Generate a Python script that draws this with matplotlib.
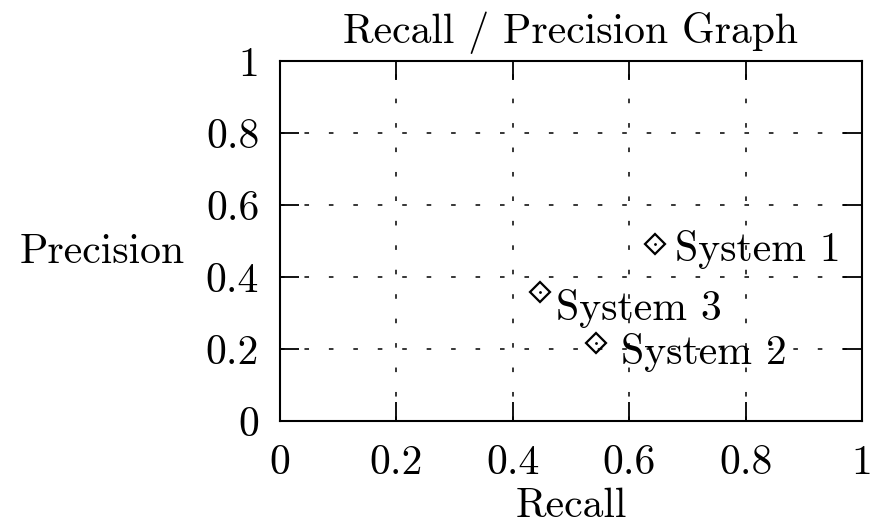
import matplotlib
matplotlib.use("Agg")
import matplotlib.pyplot as plt

plt.rcParams['font.family'] = ['cmr10', 'DejaVu Serif']
plt.rcParams['mathtext.fontset'] = 'cm'
plt.rcParams['axes.unicode_minus'] = False

systems = ["System 1", "System 2", "System 3"]
recall = [0.645, 0.543, 0.447]
precision = [0.492, 0.217, 0.358]
ticks = [0, 0.2, 0.4, 0.6, 0.8, 1]
tick_labels = ["0", "0.2", "0.4", "0.6", "0.8", "1"]
# label offsets (points) relative to each marker
label_offsets = [(14.5, -4), (18, -7), (11.5, -12)]

fig = plt.figure(figsize=(8.75, 5.25), dpi=100)
ax = fig.add_axes([0.32, 0.198, 0.665, 0.686])
ax.set_xlim(0, 1)
ax.set_ylim(0, 1)
ax.set_xticks(ticks)
ax.set_yticks(ticks)
ax.set_xticklabels(tick_labels)
ax.set_yticklabels(tick_labels)
fs = 30
ax.tick_params(direction='in', length=14, width=1.3, top=True, right=True,
               labelsize=fs, colors='black')
ax.tick_params(axis='y', pad=15)
ax.tick_params(axis='x', pad=17)
for s in ax.spines.values():
    s.set_linewidth(1.5)
ax.grid(True, color='black', linewidth=1.1, linestyle=(0, (3, 13)))
ax.set_axisbelow(True)

ax.plot(recall, precision, linestyle='none', marker='D', markersize=10,
        markerfacecolor='none', markeredgecolor='black', markeredgewidth=1.6)
ax.plot(recall, precision, linestyle='none', marker='.', markersize=2, color='black')
for name, x, y, off in zip(systems, recall, precision, label_offsets):
    ax.annotate(name, (x, y), xytext=off, textcoords='offset points',
                fontsize=fs, ha='left', va='center')

ax.set_title("Recall / Precision Graph", fontsize=fs, pad=13)
ax.set_xlabel("Recall", fontsize=fs, labelpad=4)
ax.set_ylabel("Precision", fontsize=fs, rotation=0, ha='center', va='center')
ax.yaxis.set_label_coords(-0.306, 0.47)

fig.savefig("out.png", dpi=100)
